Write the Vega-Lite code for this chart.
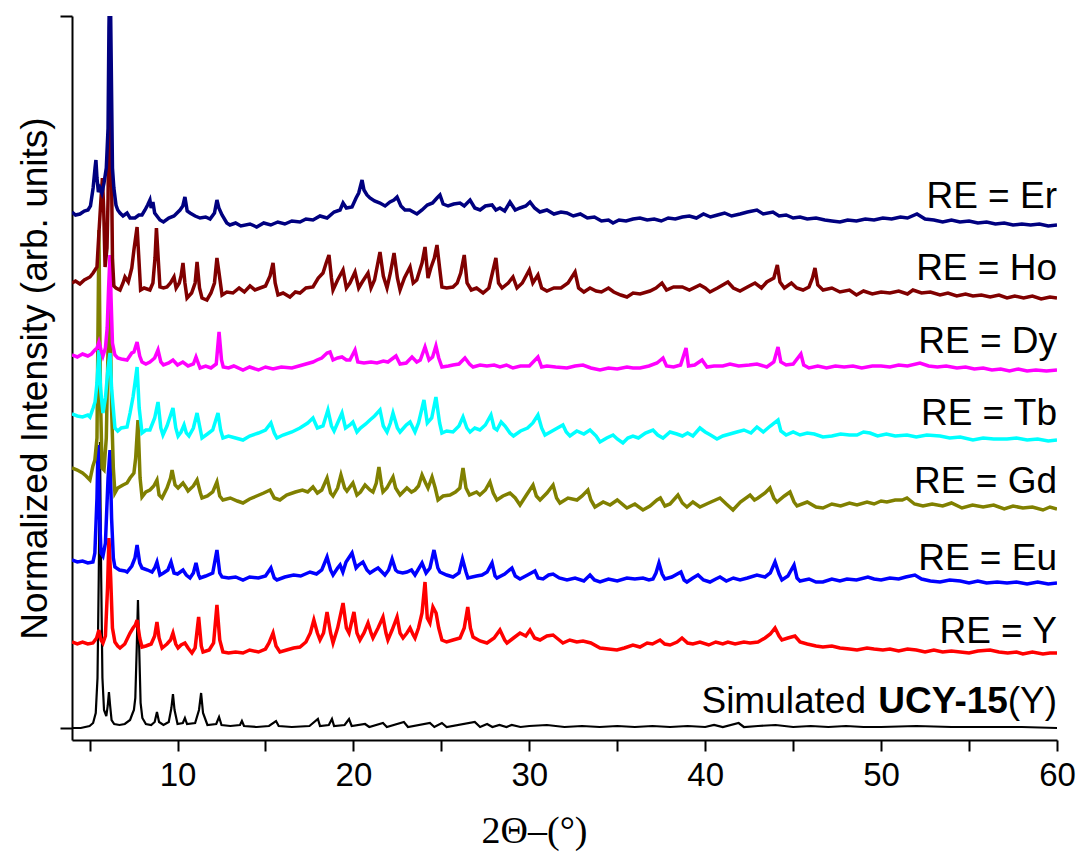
{
"$schema": "https://vega.github.io/schema/vega-lite/v6.json",
"width": 985, "height": 724,
"autosize": {"type": "none"},
"padding": {"left": 72, "top": 16, "right": 21, "bottom": 120},
"background": "white",
"config": {"view": {"stroke": null}},
"datasets": {
"er": [{"x":4.0,"y":516},{"x":4.2,"y":513},{"x":4.45,"y":514},{"x":4.7,"y":517},{"x":4.91,"y":518},{"x":5.05,"y":522},{"x":5.2,"y":540},{"x":5.31,"y":560},{"x":5.36,"y":568},{"x":5.42,"y":550},{"x":5.5,"y":536},{"x":5.59,"y":540},{"x":5.7,"y":535},{"x":5.82,"y":545},{"x":5.95,"y":560},{"x":6.05,"y":600},{"x":6.1,"y":700},{"x":6.16,"y":770},{"x":6.22,"y":680},{"x":6.3,"y":560},{"x":6.38,"y":540},{"x":6.5,"y":523},{"x":6.6,"y":518},{"x":6.73,"y":515},{"x":6.9,"y":512},{"x":7.13,"y":515},{"x":7.3,"y":510},{"x":7.58,"y":510},{"x":7.8,"y":513},{"x":7.98,"y":513},{"x":8.15,"y":518},{"x":8.3,"y":523},{"x":8.43,"y":528},{"x":8.5,"y":520},{"x":8.6,"y":526},{"x":8.7,"y":515},{"x":9.0,"y":508},{"x":9.2,"y":506},{"x":9.5,"y":510},{"x":9.8,"y":512},{"x":10.14,"y":518},{"x":10.3,"y":522},{"x":10.42,"y":531},{"x":10.55,"y":517},{"x":10.71,"y":515},{"x":11.0,"y":512},{"x":11.28,"y":510},{"x":11.6,"y":511},{"x":11.85,"y":509},{"x":12.1,"y":515},{"x":12.24,"y":528},{"x":12.35,"y":520},{"x":12.53,"y":513},{"x":12.8,"y":505},{"x":12.98,"y":503},{"x":13.3,"y":505},{"x":13.6,"y":502},{"x":14.12,"y":504},{"x":14.5,"y":501},{"x":14.9,"y":505},{"x":15.3,"y":503},{"x":15.7,"y":506},{"x":16.1,"y":504},{"x":16.5,"y":507},{"x":16.96,"y":506},{"x":17.3,"y":509},{"x":17.7,"y":508},{"x":18.1,"y":512},{"x":18.5,"y":510},{"x":18.9,"y":516},{"x":19.24,"y":518},{"x":19.41,"y":525},{"x":19.6,"y":520},{"x":19.92,"y":521},{"x":20.15,"y":530},{"x":20.3,"y":535},{"x":20.49,"y":548},{"x":20.6,"y":538},{"x":20.77,"y":533},{"x":20.94,"y":530},{"x":21.2,"y":527},{"x":21.51,"y":525},{"x":21.8,"y":522},{"x":22.08,"y":526},{"x":22.3,"y":528},{"x":22.48,"y":531},{"x":22.7,"y":522},{"x":22.93,"y":518},{"x":23.2,"y":518},{"x":23.61,"y":514},{"x":23.9,"y":518},{"x":24.2,"y":523},{"x":24.5,"y":525},{"x":24.75,"y":530},{"x":24.92,"y":533},{"x":25.1,"y":524},{"x":25.38,"y":522},{"x":25.7,"y":524},{"x":26.06,"y":525},{"x":26.3,"y":522},{"x":26.63,"y":528},{"x":26.9,"y":520},{"x":27.2,"y":518},{"x":27.5,"y":522},{"x":27.88,"y":523},{"x":28.1,"y":518},{"x":28.33,"y":520},{"x":28.6,"y":517},{"x":28.9,"y":526},{"x":29.2,"y":518},{"x":29.47,"y":520},{"x":29.8,"y":522},{"x":30.04,"y":526},{"x":30.3,"y":520},{"x":30.6,"y":516},{"x":31.0,"y":518},{"x":31.4,"y":514},{"x":31.8,"y":516},{"x":32.14,"y":515},{"x":32.5,"y":512},{"x":32.9,"y":514},{"x":33.3,"y":510},{"x":33.7,"y":511},{"x":34.1,"y":507},{"x":34.5,"y":508},{"x":34.76,"y":505},{"x":35.1,"y":508},{"x":35.5,"y":507},{"x":35.9,"y":509},{"x":36.29,"y":510},{"x":36.7,"y":508},{"x":37.1,"y":509},{"x":37.5,"y":507},{"x":37.9,"y":510},{"x":38.3,"y":509},{"x":38.7,"y":511},{"x":39.1,"y":512},{"x":39.5,"y":510},{"x":39.9,"y":514},{"x":40.3,"y":511},{"x":40.7,"y":513},{"x":41.1,"y":515},{"x":41.5,"y":512},{"x":41.98,"y":514},{"x":42.4,"y":516},{"x":42.94,"y":518},{"x":43.3,"y":514},{"x":43.85,"y":516},{"x":44.2,"y":512},{"x":44.6,"y":513},{"x":45.0,"y":510},{"x":45.39,"y":511},{"x":45.8,"y":509},{"x":46.3,"y":510},{"x":46.8,"y":508},{"x":47.2,"y":507},{"x":47.66,"y":506},{"x":48.1,"y":508},{"x":48.6,"y":507},{"x":49.1,"y":509},{"x":49.6,"y":508},{"x":50.1,"y":510},{"x":50.6,"y":509},{"x":51.1,"y":511},{"x":51.5,"y":510},{"x":52.04,"y":514},{"x":52.5,"y":509},{"x":53.0,"y":508},{"x":53.5,"y":506},{"x":54.0,"y":508},{"x":54.48,"y":506},{"x":55.0,"y":507},{"x":55.5,"y":505},{"x":56.0,"y":506},{"x":56.5,"y":504},{"x":57.0,"y":505},{"x":57.5,"y":503},{"x":58.0,"y":504},{"x":58.5,"y":503},{"x":59.0,"y":504},{"x":59.5,"y":502},{"x":60.0,"y":503}],
"ho": [{"x":4.0,"y":445},{"x":4.2,"y":447},{"x":4.45,"y":444},{"x":4.7,"y":448},{"x":5.02,"y":451},{"x":5.2,"y":455},{"x":5.42,"y":461},{"x":5.53,"y":495},{"x":5.65,"y":530},{"x":5.73,"y":550},{"x":5.8,"y":520},{"x":5.88,"y":461},{"x":5.99,"y":480},{"x":6.05,"y":530},{"x":6.1,"y":620},{"x":6.16,"y":668},{"x":6.22,"y":600},{"x":6.3,"y":470},{"x":6.38,"y":442},{"x":6.5,"y":440},{"x":6.73,"y":438},{"x":6.9,"y":445},{"x":7.01,"y":451},{"x":7.2,"y":446},{"x":7.4,"y":460},{"x":7.52,"y":478},{"x":7.7,"y":501},{"x":7.8,"y":470},{"x":7.9,"y":438},{"x":8.1,"y":440},{"x":8.43,"y":438},{"x":8.6,"y":445},{"x":8.72,"y":470},{"x":8.8,"y":500},{"x":8.9,"y":470},{"x":9.0,"y":441},{"x":9.2,"y":440},{"x":9.4,"y":441},{"x":9.6,"y":445},{"x":9.8,"y":451},{"x":9.92,"y":440},{"x":10.1,"y":445},{"x":10.2,"y":452},{"x":10.31,"y":465},{"x":10.42,"y":445},{"x":10.54,"y":430},{"x":10.8,"y":435},{"x":11.0,"y":445},{"x":11.11,"y":466},{"x":11.25,"y":440},{"x":11.39,"y":430},{"x":11.67,"y":428},{"x":11.9,"y":435},{"x":12.1,"y":445},{"x":12.24,"y":470},{"x":12.36,"y":455},{"x":12.53,"y":433},{"x":12.8,"y":436},{"x":13.15,"y":435},{"x":13.5,"y":440},{"x":13.8,"y":436},{"x":14.12,"y":442},{"x":14.4,"y":438},{"x":14.69,"y":440},{"x":15.0,"y":442},{"x":15.26,"y":452},{"x":15.43,"y":465},{"x":15.55,"y":445},{"x":15.71,"y":433},{"x":16.0,"y":435},{"x":16.39,"y":431},{"x":16.7,"y":436},{"x":16.96,"y":435},{"x":17.3,"y":440},{"x":17.7,"y":441},{"x":18.0,"y":450},{"x":18.27,"y":455},{"x":18.45,"y":465},{"x":18.61,"y":473},{"x":18.75,"y":450},{"x":18.84,"y":438},{"x":19.1,"y":448},{"x":19.41,"y":458},{"x":19.6,"y":440},{"x":19.8,"y":445},{"x":20.09,"y":456},{"x":20.3,"y":440},{"x":20.5,"y":446},{"x":20.83,"y":455},{"x":21.0,"y":440},{"x":21.2,"y":448},{"x":21.51,"y":476},{"x":21.7,"y":452},{"x":21.91,"y":440},{"x":22.1,"y":455},{"x":22.31,"y":475},{"x":22.5,"y":450},{"x":22.65,"y":438},{"x":22.9,"y":450},{"x":23.22,"y":461},{"x":23.4,"y":445},{"x":23.6,"y":448},{"x":23.9,"y":465},{"x":24.07,"y":481},{"x":24.24,"y":450},{"x":24.4,"y":460},{"x":24.6,"y":470},{"x":24.75,"y":483},{"x":24.9,"y":460},{"x":25.03,"y":441},{"x":25.3,"y":440},{"x":25.66,"y":441},{"x":25.9,"y":445},{"x":26.1,"y":455},{"x":26.3,"y":473},{"x":26.46,"y":445},{"x":26.7,"y":438},{"x":27.0,"y":440},{"x":27.37,"y":435},{"x":27.7,"y":440},{"x":27.9,"y":455},{"x":28.1,"y":470},{"x":28.25,"y":445},{"x":28.45,"y":440},{"x":28.8,"y":445},{"x":29.07,"y":451},{"x":29.3,"y":440},{"x":29.6,"y":445},{"x":30.0,"y":458},{"x":30.2,"y":445},{"x":30.49,"y":453},{"x":30.7,"y":440},{"x":31.0,"y":437},{"x":31.4,"y":440},{"x":31.8,"y":440},{"x":32.2,"y":445},{"x":32.6,"y":456},{"x":32.8,"y":440},{"x":33.1,"y":436},{"x":33.45,"y":440},{"x":33.8,"y":437},{"x":34.1,"y":436},{"x":34.5,"y":440},{"x":34.8,"y":436},{"x":35.2,"y":433},{"x":35.55,"y":431},{"x":35.9,"y":435},{"x":36.3,"y":434},{"x":36.86,"y":437},{"x":37.2,"y":440},{"x":37.54,"y":445},{"x":37.8,"y":438},{"x":38.2,"y":441},{"x":38.7,"y":441},{"x":39.1,"y":438},{"x":39.7,"y":443},{"x":40.0,"y":440},{"x":40.27,"y":436},{"x":40.7,"y":440},{"x":41.29,"y":446},{"x":41.6,"y":440},{"x":41.98,"y":437},{"x":42.4,"y":441},{"x":42.83,"y":445},{"x":43.2,"y":440},{"x":43.5,"y":446},{"x":43.9,"y":450},{"x":44.1,"y":463},{"x":44.25,"y":446},{"x":44.5,"y":440},{"x":44.9,"y":445},{"x":45.2,"y":440},{"x":45.56,"y":438},{"x":45.9,"y":441},{"x":46.1,"y":450},{"x":46.24,"y":460},{"x":46.4,"y":443},{"x":46.7,"y":438},{"x":47.2,"y":440},{"x":47.66,"y":436},{"x":48.2,"y":438},{"x":48.6,"y":433},{"x":49.0,"y":437},{"x":49.5,"y":434},{"x":50.0,"y":436},{"x":50.5,"y":435},{"x":51.0,"y":437},{"x":51.5,"y":434},{"x":51.81,"y":438},{"x":52.3,"y":435},{"x":52.8,"y":436},{"x":53.35,"y":433},{"x":53.8,"y":435},{"x":54.3,"y":432},{"x":54.8,"y":434},{"x":55.22,"y":432},{"x":55.7,"y":433},{"x":56.2,"y":431},{"x":56.7,"y":433},{"x":57.16,"y":430},{"x":57.6,"y":432},{"x":58.1,"y":430},{"x":58.6,"y":432},{"x":59.1,"y":429},{"x":59.6,"y":431},{"x":60.0,"y":430}],
"dy": [{"x":4.0,"y":373},{"x":4.3,"y":371},{"x":4.6,"y":374},{"x":4.9,"y":372},{"x":5.1,"y":374},{"x":5.3,"y":378},{"x":5.42,"y":380},{"x":5.53,"y":386},{"x":5.65,"y":378},{"x":5.76,"y":372},{"x":5.9,"y":380},{"x":6.0,"y":400},{"x":6.08,"y":440},{"x":6.16,"y":473},{"x":6.22,"y":430},{"x":6.3,"y":385},{"x":6.44,"y":373},{"x":6.6,"y":370},{"x":6.8,"y":369},{"x":7.13,"y":368},{"x":7.4,"y":375},{"x":7.52,"y":376},{"x":7.7,"y":386},{"x":7.85,"y":372},{"x":7.98,"y":366},{"x":8.2,"y":364},{"x":8.43,"y":366},{"x":8.7,"y":370},{"x":8.89,"y":378},{"x":9.05,"y":366},{"x":9.2,"y":363},{"x":9.5,"y":365},{"x":9.74,"y":368},{"x":10.0,"y":363},{"x":10.3,"y":366},{"x":10.6,"y":362},{"x":10.9,"y":364},{"x":11.05,"y":371},{"x":11.28,"y":360},{"x":11.6,"y":362},{"x":11.9,"y":360},{"x":12.2,"y":364},{"x":12.36,"y":396},{"x":12.5,"y":368},{"x":12.6,"y":361},{"x":12.9,"y":360},{"x":13.2,"y":362},{"x":13.72,"y":358},{"x":14.1,"y":361},{"x":14.6,"y":358},{"x":15.0,"y":361},{"x":15.43,"y":359},{"x":15.9,"y":361},{"x":16.5,"y":360},{"x":16.9,"y":362},{"x":17.3,"y":364},{"x":17.7,"y":366},{"x":17.93,"y":368},{"x":18.2,"y":370},{"x":18.5,"y":375},{"x":18.67,"y":376},{"x":18.84,"y":368},{"x":19.1,"y":370},{"x":19.35,"y":371},{"x":19.6,"y":368},{"x":19.8,"y":368},{"x":20.09,"y":378},{"x":20.25,"y":366},{"x":20.6,"y":365},{"x":21.0,"y":366},{"x":21.34,"y":365},{"x":21.7,"y":367},{"x":21.96,"y":366},{"x":22.42,"y":372},{"x":22.65,"y":364},{"x":23.0,"y":365},{"x":23.33,"y":371},{"x":23.6,"y":366},{"x":23.8,"y":368},{"x":24.07,"y":381},{"x":24.3,"y":368},{"x":24.5,"y":371},{"x":24.69,"y":382},{"x":24.85,"y":370},{"x":25.03,"y":361},{"x":25.4,"y":362},{"x":25.66,"y":363},{"x":26.0,"y":364},{"x":26.34,"y":370},{"x":26.6,"y":364},{"x":26.8,"y":361},{"x":27.2,"y":363},{"x":27.59,"y":362},{"x":28.0,"y":363},{"x":28.33,"y":361},{"x":28.7,"y":363},{"x":29.07,"y":360},{"x":29.5,"y":362},{"x":30.0,"y":362},{"x":30.49,"y":371},{"x":30.7,"y":361},{"x":31.0,"y":362},{"x":31.5,"y":361},{"x":32.14,"y":360},{"x":32.6,"y":362},{"x":33.05,"y":363},{"x":33.5,"y":360},{"x":34.02,"y":358},{"x":34.5,"y":360},{"x":35.0,"y":359},{"x":35.55,"y":361},{"x":35.89,"y":360},{"x":36.3,"y":360},{"x":36.8,"y":362},{"x":37.26,"y":365},{"x":37.6,"y":370},{"x":37.8,"y":362},{"x":38.2,"y":361},{"x":38.6,"y":363},{"x":38.91,"y":380},{"x":39.05,"y":362},{"x":39.4,"y":363},{"x":39.82,"y":368},{"x":40.1,"y":361},{"x":40.5,"y":362},{"x":41.0,"y":362},{"x":41.41,"y":364},{"x":41.9,"y":362},{"x":42.5,"y":363},{"x":42.94,"y":364},{"x":43.5,"y":361},{"x":43.9,"y":366},{"x":44.14,"y":381},{"x":44.3,"y":366},{"x":44.6,"y":363},{"x":45.0,"y":364},{"x":45.44,"y":374},{"x":45.6,"y":363},{"x":45.9,"y":360},{"x":46.4,"y":362},{"x":46.9,"y":360},{"x":47.4,"y":362},{"x":47.9,"y":361},{"x":48.4,"y":362},{"x":48.9,"y":360},{"x":49.5,"y":362},{"x":50.0,"y":362},{"x":50.5,"y":361},{"x":51.0,"y":363},{"x":51.5,"y":362},{"x":52.21,"y":365},{"x":52.7,"y":362},{"x":53.2,"y":361},{"x":53.7,"y":362},{"x":54.31,"y":360},{"x":54.8,"y":361},{"x":55.3,"y":359},{"x":55.8,"y":360},{"x":56.3,"y":358},{"x":56.8,"y":359},{"x":57.3,"y":357},{"x":57.8,"y":359},{"x":58.3,"y":357},{"x":58.8,"y":358},{"x":59.4,"y":357},{"x":60.0,"y":358}],
"tb": [{"x":4.0,"y":314},{"x":4.3,"y":312},{"x":4.6,"y":311},{"x":4.9,"y":313},{"x":5.02,"y":311},{"x":5.2,"y":320},{"x":5.31,"y":326},{"x":5.42,"y":345},{"x":5.53,"y":378},{"x":5.62,"y":340},{"x":5.76,"y":315},{"x":5.9,"y":330},{"x":6.05,"y":360},{"x":6.16,"y":375},{"x":6.25,"y":340},{"x":6.44,"y":300},{"x":6.6,"y":297},{"x":6.8,"y":300},{"x":7.13,"y":301},{"x":7.3,"y":315},{"x":7.47,"y":331},{"x":7.58,"y":345},{"x":7.7,"y":361},{"x":7.82,"y":320},{"x":7.98,"y":295},{"x":8.2,"y":298},{"x":8.43,"y":298},{"x":8.7,"y":310},{"x":8.89,"y":326},{"x":9.05,"y":300},{"x":9.17,"y":293},{"x":9.4,"y":302},{"x":9.74,"y":320},{"x":9.9,"y":300},{"x":10.03,"y":292},{"x":10.2,"y":296},{"x":10.37,"y":303},{"x":10.5,"y":295},{"x":10.65,"y":292},{"x":10.9,"y":300},{"x":11.11,"y":315},{"x":11.3,"y":298},{"x":11.39,"y":290},{"x":11.7,"y":294},{"x":12.0,"y":298},{"x":12.3,"y":315},{"x":12.45,"y":298},{"x":12.58,"y":290},{"x":12.9,"y":292},{"x":13.3,"y":290},{"x":13.72,"y":288},{"x":14.1,"y":292},{"x":14.6,"y":295},{"x":15.0,"y":298},{"x":15.31,"y":305},{"x":15.5,"y":295},{"x":15.65,"y":290},{"x":16.0,"y":293},{"x":16.5,"y":296},{"x":16.96,"y":300},{"x":17.4,"y":305},{"x":17.7,"y":310},{"x":17.95,"y":300},{"x":18.27,"y":302},{"x":18.55,"y":318},{"x":18.75,"y":302},{"x":18.9,"y":297},{"x":19.1,"y":305},{"x":19.35,"y":315},{"x":19.55,"y":300},{"x":19.8,"y":303},{"x":19.97,"y":306},{"x":20.2,"y":296},{"x":20.4,"y":300},{"x":20.7,"y":304},{"x":20.94,"y":308},{"x":21.2,"y":312},{"x":21.51,"y":318},{"x":21.7,"y":302},{"x":21.91,"y":296},{"x":22.1,"y":305},{"x":22.25,"y":315},{"x":22.5,"y":300},{"x":22.65,"y":296},{"x":23.0,"y":303},{"x":23.22,"y":306},{"x":23.5,"y":296},{"x":23.7,"y":305},{"x":24.01,"y":328},{"x":24.2,"y":305},{"x":24.45,"y":310},{"x":24.69,"y":331},{"x":24.9,"y":305},{"x":25.03,"y":295},{"x":25.3,"y":297},{"x":25.66,"y":296},{"x":26.0,"y":302},{"x":26.23,"y":311},{"x":26.45,"y":300},{"x":26.63,"y":296},{"x":26.9,"y":300},{"x":27.19,"y":298},{"x":27.5,"y":303},{"x":27.82,"y":313},{"x":28.0,"y":300},{"x":28.16,"y":298},{"x":28.4,"y":306},{"x":28.62,"y":302},{"x":28.9,"y":295},{"x":29.1,"y":292},{"x":29.5,"y":297},{"x":29.9,"y":300},{"x":30.2,"y":305},{"x":30.49,"y":313},{"x":30.7,"y":300},{"x":30.89,"y":293},{"x":31.3,"y":297},{"x":31.6,"y":300},{"x":31.91,"y":303},{"x":32.1,"y":296},{"x":32.31,"y":292},{"x":32.7,"y":297},{"x":33.1,"y":294},{"x":33.45,"y":298},{"x":33.8,"y":292},{"x":34.02,"y":286},{"x":34.4,"y":290},{"x":34.76,"y":293},{"x":35.0,"y":289},{"x":35.32,"y":285},{"x":35.6,"y":290},{"x":35.89,"y":292},{"x":36.2,"y":290},{"x":36.6,"y":295},{"x":37.03,"y":298},{"x":37.3,"y":293},{"x":37.6,"y":290},{"x":38.0,"y":296},{"x":38.39,"y":294},{"x":38.7,"y":292},{"x":39.0,"y":295},{"x":39.3,"y":292},{"x":39.7,"y":300},{"x":40.0,"y":296},{"x":40.3,"y":293},{"x":40.67,"y":289},{"x":41.0,"y":292},{"x":41.4,"y":294},{"x":41.8,"y":296},{"x":42.2,"y":298},{"x":42.6,"y":295},{"x":42.94,"y":301},{"x":43.3,"y":296},{"x":43.7,"y":302},{"x":44.14,"y":308},{"x":44.3,"y":297},{"x":44.6,"y":293},{"x":45.0,"y":296},{"x":45.39,"y":293},{"x":45.8,"y":295},{"x":46.2,"y":294},{"x":46.69,"y":291},{"x":47.2,"y":292},{"x":47.7,"y":294},{"x":48.2,"y":293},{"x":48.63,"y":293},{"x":49.0,"y":296},{"x":49.37,"y":295},{"x":49.8,"y":292},{"x":50.3,"y":294},{"x":50.8,"y":292},{"x":51.47,"y":293},{"x":52.0,"y":291},{"x":52.6,"y":293},{"x":53.35,"y":292},{"x":53.9,"y":290},{"x":54.5,"y":291},{"x":55.22,"y":288},{"x":55.8,"y":290},{"x":56.4,"y":289},{"x":57.16,"y":289},{"x":57.7,"y":290},{"x":58.3,"y":288},{"x":58.9,"y":289},{"x":59.5,"y":287},{"x":60.0,"y":288}],
"gd": [{"x":4.0,"y":260},{"x":4.3,"y":258},{"x":4.6,"y":255},{"x":4.8,"y":252},{"x":5.02,"y":248},{"x":5.19,"y":262},{"x":5.3,"y":268},{"x":5.42,"y":290},{"x":5.53,"y":498},{"x":5.62,"y":330},{"x":5.71,"y":260},{"x":5.82,"y":258},{"x":5.95,"y":290},{"x":6.05,"y":380},{"x":6.16,"y":428},{"x":6.25,"y":320},{"x":6.35,"y":260},{"x":6.44,"y":235},{"x":6.6,"y":240},{"x":6.9,"y":243},{"x":7.13,"y":245},{"x":7.3,"y":250},{"x":7.52,"y":255},{"x":7.62,"y":270},{"x":7.75,"y":308},{"x":7.87,"y":250},{"x":7.98,"y":231},{"x":8.2,"y":236},{"x":8.43,"y":238},{"x":8.65,"y":242},{"x":8.83,"y":248},{"x":8.95,"y":233},{"x":9.12,"y":230},{"x":9.4,"y":240},{"x":9.6,"y":250},{"x":9.69,"y":258},{"x":9.86,"y":243},{"x":10.03,"y":240},{"x":10.31,"y":245},{"x":10.5,"y":240},{"x":10.6,"y":237},{"x":10.9,"y":242},{"x":11.11,"y":248},{"x":11.3,"y":235},{"x":11.39,"y":230},{"x":11.7,"y":232},{"x":12.0,"y":236},{"x":12.24,"y":246},{"x":12.4,"y":232},{"x":12.58,"y":228},{"x":13.0,"y":230},{"x":13.4,"y":227},{"x":13.72,"y":225},{"x":14.1,"y":229},{"x":14.5,"y":232},{"x":14.9,"y":235},{"x":15.26,"y":238},{"x":15.5,"y":230},{"x":15.82,"y":228},{"x":16.2,"y":233},{"x":16.7,"y":236},{"x":17.1,"y":238},{"x":17.4,"y":236},{"x":17.7,"y":241},{"x":17.95,"y":235},{"x":18.2,"y":238},{"x":18.5,"y":250},{"x":18.7,"y":235},{"x":18.84,"y":232},{"x":19.1,"y":240},{"x":19.29,"y":253},{"x":19.5,"y":240},{"x":19.63,"y":237},{"x":19.97,"y":245},{"x":20.2,"y":233},{"x":20.4,"y":236},{"x":20.66,"y":243},{"x":20.94,"y":238},{"x":21.11,"y":236},{"x":21.3,"y":245},{"x":21.45,"y":261},{"x":21.6,"y":243},{"x":21.68,"y":236},{"x":21.9,"y":240},{"x":22.25,"y":251},{"x":22.4,"y":240},{"x":22.65,"y":233},{"x":23.04,"y":240},{"x":23.3,"y":236},{"x":23.5,"y":238},{"x":23.7,"y":242},{"x":23.9,"y":253},{"x":24.1,"y":245},{"x":24.24,"y":240},{"x":24.47,"y":251},{"x":24.65,"y":240},{"x":24.81,"y":228},{"x":25.1,"y":232},{"x":25.49,"y":233},{"x":25.8,"y":236},{"x":26.05,"y":240},{"x":26.23,"y":260},{"x":26.4,"y":240},{"x":26.6,"y":233},{"x":27.0,"y":236},{"x":27.19,"y":233},{"x":27.5,"y":238},{"x":27.76,"y":246},{"x":27.95,"y":235},{"x":28.16,"y":228},{"x":28.5,"y":232},{"x":28.9,"y":235},{"x":29.2,"y":230},{"x":29.47,"y":223},{"x":29.8,"y":232},{"x":30.21,"y":243},{"x":30.4,"y":232},{"x":30.61,"y":228},{"x":31.0,"y":235},{"x":31.35,"y":243},{"x":31.55,"y":230},{"x":31.74,"y":225},{"x":32.2,"y":230},{"x":32.71,"y":228},{"x":33.0,"y":232},{"x":33.33,"y":238},{"x":33.5,"y":228},{"x":33.73,"y":221},{"x":34.2,"y":226},{"x":34.59,"y":223},{"x":35.0,"y":228},{"x":35.55,"y":220},{"x":36.0,"y":224},{"x":36.46,"y":218},{"x":36.86,"y":222},{"x":37.26,"y":228},{"x":37.45,"y":230},{"x":37.71,"y":222},{"x":38.0,"y":224},{"x":38.45,"y":233},{"x":38.7,"y":225},{"x":38.96,"y":221},{"x":39.3,"y":226},{"x":39.7,"y":221},{"x":40.2,"y":225},{"x":40.84,"y":230},{"x":41.2,"y":224},{"x":41.58,"y":218},{"x":42.0,"y":226},{"x":42.55,"y":233},{"x":42.8,"y":228},{"x":43.0,"y":230},{"x":43.4,"y":235},{"x":43.68,"y":240},{"x":43.9,"y":230},{"x":44.08,"y":226},{"x":44.5,"y":232},{"x":44.82,"y":236},{"x":45.05,"y":226},{"x":45.22,"y":222},{"x":45.8,"y":226},{"x":46.3,"y":221},{"x":46.69,"y":220},{"x":47.2,"y":224},{"x":47.7,"y":222},{"x":48.2,"y":225},{"x":48.63,"y":223},{"x":49.2,"y":226},{"x":49.6,"y":224},{"x":50.0,"y":227},{"x":50.33,"y":226},{"x":50.8,"y":228},{"x":51.2,"y":228},{"x":51.47,"y":230},{"x":51.9,"y":224},{"x":52.38,"y":222},{"x":52.9,"y":224},{"x":53.5,"y":222},{"x":54.0,"y":225},{"x":54.6,"y":220},{"x":55.2,"y":223},{"x":55.8,"y":221},{"x":56.4,"y":223},{"x":57.0,"y":219},{"x":57.5,"y":222},{"x":58.06,"y":220},{"x":58.6,"y":221},{"x":59.2,"y":218},{"x":59.6,"y":221},{"x":60.0,"y":219}],
"eu": [{"x":4.0,"y":168},{"x":4.3,"y":166},{"x":4.6,"y":167},{"x":4.9,"y":165},{"x":5.19,"y":166},{"x":5.3,"y":175},{"x":5.42,"y":230},{"x":5.48,"y":283},{"x":5.55,"y":220},{"x":5.65,"y":175},{"x":5.76,"y":172},{"x":5.9,"y":185},{"x":6.05,"y":250},{"x":6.16,"y":278},{"x":6.25,"y":210},{"x":6.35,"y":170},{"x":6.44,"y":161},{"x":6.7,"y":158},{"x":7.01,"y":157},{"x":7.13,"y":156},{"x":7.4,"y":162},{"x":7.58,"y":170},{"x":7.7,"y":183},{"x":7.85,"y":165},{"x":7.98,"y":160},{"x":8.3,"y":158},{"x":8.55,"y":156},{"x":8.7,"y":160},{"x":8.83,"y":166},{"x":9.0,"y":153},{"x":9.2,"y":155},{"x":9.45,"y":158},{"x":9.63,"y":166},{"x":9.8,"y":155},{"x":10.0,"y":154},{"x":10.31,"y":158},{"x":10.5,"y":153},{"x":10.71,"y":150},{"x":10.9,"y":155},{"x":11.05,"y":165},{"x":11.2,"y":153},{"x":11.28,"y":150},{"x":11.6,"y":152},{"x":12.0,"y":155},{"x":12.24,"y":178},{"x":12.4,"y":155},{"x":12.53,"y":151},{"x":12.9,"y":150},{"x":13.3,"y":151},{"x":13.72,"y":148},{"x":14.1,"y":151},{"x":14.6,"y":150},{"x":15.0,"y":152},{"x":15.31,"y":160},{"x":15.5,"y":150},{"x":15.65,"y":148},{"x":16.1,"y":151},{"x":16.6,"y":153},{"x":17.0,"y":152},{"x":17.53,"y":156},{"x":17.9,"y":154},{"x":18.2,"y":158},{"x":18.5,"y":171},{"x":18.7,"y":158},{"x":18.84,"y":153},{"x":19.1,"y":160},{"x":19.24,"y":163},{"x":19.4,"y":156},{"x":19.58,"y":166},{"x":19.92,"y":175},{"x":20.15,"y":160},{"x":20.3,"y":163},{"x":20.54,"y":166},{"x":20.77,"y":158},{"x":20.94,"y":155},{"x":21.2,"y":158},{"x":21.4,"y":160},{"x":21.79,"y":153},{"x":22.0,"y":158},{"x":22.2,"y":169},{"x":22.4,"y":158},{"x":22.53,"y":156},{"x":22.8,"y":155},{"x":23.04,"y":156},{"x":23.3,"y":158},{"x":23.5,"y":153},{"x":23.9,"y":165},{"x":24.13,"y":155},{"x":24.35,"y":160},{"x":24.58,"y":178},{"x":24.8,"y":160},{"x":24.92,"y":156},{"x":25.3,"y":153},{"x":25.66,"y":151},{"x":26.0,"y":155},{"x":26.2,"y":169},{"x":26.4,"y":156},{"x":26.51,"y":150},{"x":27.0,"y":152},{"x":27.31,"y":153},{"x":27.6,"y":156},{"x":27.88,"y":165},{"x":28.05,"y":152},{"x":28.16,"y":150},{"x":28.6,"y":154},{"x":29.01,"y":160},{"x":29.2,"y":152},{"x":29.47,"y":149},{"x":29.9,"y":153},{"x":30.32,"y":157},{"x":30.5,"y":150},{"x":30.78,"y":149},{"x":31.1,"y":153},{"x":31.35,"y":154},{"x":31.7,"y":150},{"x":32.14,"y":148},{"x":32.6,"y":150},{"x":33.1,"y":147},{"x":33.45,"y":153},{"x":33.7,"y":148},{"x":34.02,"y":146},{"x":34.5,"y":149},{"x":35.0,"y":147},{"x":35.55,"y":150},{"x":36.0,"y":149},{"x":36.46,"y":150},{"x":36.8,"y":148},{"x":37.03,"y":149},{"x":37.2,"y":155},{"x":37.37,"y":165},{"x":37.55,"y":154},{"x":37.71,"y":149},{"x":38.1,"y":151},{"x":38.62,"y":156},{"x":38.8,"y":148},{"x":38.96,"y":146},{"x":39.3,"y":150},{"x":39.59,"y":153},{"x":39.9,"y":148},{"x":40.27,"y":146},{"x":40.6,"y":149},{"x":40.84,"y":151},{"x":41.2,"y":147},{"x":41.6,"y":150},{"x":41.98,"y":148},{"x":42.4,"y":150},{"x":42.94,"y":153},{"x":43.4,"y":151},{"x":43.7,"y":155},{"x":43.97,"y":166},{"x":44.2,"y":154},{"x":44.36,"y":148},{"x":44.7,"y":152},{"x":45.05,"y":163},{"x":45.22,"y":150},{"x":45.39,"y":147},{"x":45.9,"y":149},{"x":46.3,"y":146},{"x":46.69,"y":146},{"x":47.2,"y":149},{"x":47.66,"y":147},{"x":48.06,"y":149},{"x":48.6,"y":148},{"x":49.25,"y":151},{"x":49.6,"y":149},{"x":50.0,"y":148},{"x":50.5,"y":150},{"x":51.0,"y":149},{"x":51.4,"y":151},{"x":51.92,"y":153},{"x":52.3,"y":149},{"x":52.8,"y":147},{"x":53.35,"y":146},{"x":53.9,"y":148},{"x":54.5,"y":147},{"x":55.0,"y":145},{"x":55.5,"y":147},{"x":56.0,"y":145},{"x":56.6,"y":146},{"x":57.16,"y":145},{"x":57.7,"y":146},{"x":58.3,"y":144},{"x":58.9,"y":146},{"x":59.5,"y":144},{"x":60.0,"y":145}],
"yy": [{"x":4.0,"y":86},{"x":4.3,"y":84},{"x":4.6,"y":86},{"x":4.9,"y":84},{"x":5.19,"y":85},{"x":5.4,"y":90},{"x":5.53,"y":98},{"x":5.65,"y":88},{"x":5.76,"y":85},{"x":5.9,"y":92},{"x":6.02,"y":140},{"x":6.1,"y":190},{"x":6.2,"y":150},{"x":6.3,"y":100},{"x":6.44,"y":86},{"x":6.6,"y":82},{"x":6.73,"y":80},{"x":7.0,"y":84},{"x":7.3,"y":95},{"x":7.47,"y":100},{"x":7.6,"y":103},{"x":7.7,"y":108},{"x":7.85,"y":90},{"x":7.98,"y":81},{"x":8.2,"y":82},{"x":8.5,"y":84},{"x":8.7,"y":92},{"x":8.83,"y":106},{"x":8.95,"y":90},{"x":9.12,"y":80},{"x":9.4,"y":84},{"x":9.6,"y":88},{"x":9.74,"y":95},{"x":9.9,"y":84},{"x":10.03,"y":80},{"x":10.2,"y":83},{"x":10.42,"y":85},{"x":10.6,"y":80},{"x":10.82,"y":75},{"x":11.0,"y":80},{"x":11.2,"y":111},{"x":11.35,"y":82},{"x":11.45,"y":76},{"x":11.8,"y":78},{"x":12.05,"y":85},{"x":12.24,"y":123},{"x":12.4,"y":88},{"x":12.58,"y":76},{"x":12.9,"y":75},{"x":13.3,"y":76},{"x":13.72,"y":75},{"x":14.1,"y":78},{"x":14.6,"y":76},{"x":15.0,"y":79},{"x":15.2,"y":85},{"x":15.43,"y":95},{"x":15.6,"y":82},{"x":15.82,"y":76},{"x":16.2,"y":78},{"x":16.6,"y":80},{"x":16.96,"y":81},{"x":17.3,"y":86},{"x":17.55,"y":95},{"x":17.75,"y":108},{"x":17.95,"y":95},{"x":18.1,"y":88},{"x":18.3,"y":95},{"x":18.5,"y":116},{"x":18.7,"y":95},{"x":18.84,"y":85},{"x":19.1,"y":100},{"x":19.41,"y":125},{"x":19.6,"y":100},{"x":19.75,"y":95},{"x":20.03,"y":116},{"x":20.2,"y":95},{"x":20.37,"y":88},{"x":20.6,"y":95},{"x":20.83,"y":105},{"x":21.0,"y":95},{"x":21.11,"y":90},{"x":21.4,"y":100},{"x":21.68,"y":111},{"x":21.85,"y":95},{"x":21.96,"y":88},{"x":22.2,"y":98},{"x":22.48,"y":111},{"x":22.65,"y":95},{"x":22.82,"y":90},{"x":23.04,"y":95},{"x":23.22,"y":100},{"x":23.4,"y":93},{"x":23.5,"y":90},{"x":23.7,"y":100},{"x":23.9,"y":115},{"x":24.07,"y":146},{"x":24.2,"y":110},{"x":24.35,"y":105},{"x":24.52,"y":121},{"x":24.7,"y":115},{"x":24.85,"y":100},{"x":25.03,"y":88},{"x":25.3,"y":86},{"x":25.66,"y":88},{"x":26.06,"y":90},{"x":26.3,"y":100},{"x":26.5,"y":121},{"x":26.65,"y":100},{"x":26.8,"y":91},{"x":27.2,"y":87},{"x":27.59,"y":85},{"x":28.0,"y":90},{"x":28.33,"y":98},{"x":28.6,"y":88},{"x":28.73,"y":85},{"x":29.1,"y":90},{"x":29.47,"y":95},{"x":29.8,"y":92},{"x":30.04,"y":98},{"x":30.3,"y":90},{"x":30.61,"y":88},{"x":31.0,"y":92},{"x":31.35,"y":93},{"x":31.7,"y":88},{"x":31.91,"y":85},{"x":32.3,"y":88},{"x":32.7,"y":86},{"x":33.05,"y":87},{"x":33.5,"y":85},{"x":34.02,"y":80},{"x":34.5,"y":79},{"x":34.98,"y":78},{"x":35.4,"y":80},{"x":35.89,"y":83},{"x":36.29,"y":81},{"x":36.7,"y":85},{"x":37.0,"y":84},{"x":37.43,"y":88},{"x":37.7,"y":84},{"x":38.0,"y":83},{"x":38.4,"y":86},{"x":38.68,"y":90},{"x":39.0,"y":85},{"x":39.3,"y":84},{"x":39.7,"y":86},{"x":40.2,"y":83},{"x":40.6,"y":86},{"x":41.0,"y":84},{"x":41.29,"y":86},{"x":41.7,"y":84},{"x":42.2,"y":86},{"x":42.55,"y":85},{"x":43.0,"y":86},{"x":43.4,"y":90},{"x":43.7,"y":94},{"x":43.97,"y":100},{"x":44.2,"y":92},{"x":44.36,"y":88},{"x":44.7,"y":90},{"x":45.1,"y":92},{"x":45.39,"y":86},{"x":45.8,"y":84},{"x":46.3,"y":82},{"x":46.69,"y":81},{"x":47.2,"y":82},{"x":47.66,"y":80},{"x":48.2,"y":79},{"x":48.63,"y":78},{"x":49.2,"y":80},{"x":49.6,"y":79},{"x":50.1,"y":78},{"x":50.5,"y":79},{"x":51.0,"y":77},{"x":51.5,"y":79},{"x":52.0,"y":78},{"x":52.5,"y":76},{"x":53.0,"y":78},{"x":53.5,"y":76},{"x":54.0,"y":77},{"x":54.5,"y":76},{"x":55.0,"y":75},{"x":55.5,"y":77},{"x":56.19,"y":78},{"x":56.7,"y":76},{"x":57.2,"y":75},{"x":57.7,"y":76},{"x":58.06,"y":74},{"x":58.6,"y":76},{"x":59.2,"y":74},{"x":59.6,"y":75},{"x":60.0,"y":75}],
"sim": [{"x":4.0,"y":0},{"x":4.5,"y":0},{"x":5.0,"y":2},{"x":5.2,"y":5},{"x":5.35,"y":15},{"x":5.45,"y":50},{"x":5.52,"y":150},{"x":5.59,"y":286},{"x":5.66,"y":150},{"x":5.73,"y":50},{"x":5.82,"y":18},{"x":5.95,"y":12},{"x":6.03,"y":22},{"x":6.1,"y":36},{"x":6.17,"y":22},{"x":6.25,"y":8},{"x":6.4,"y":4},{"x":6.7,"y":3},{"x":7.0,"y":4},{"x":7.3,"y":8},{"x":7.45,"y":15},{"x":7.52,"y":18},{"x":7.6,"y":30},{"x":7.68,"y":80},{"x":7.75,"y":128},{"x":7.82,"y":80},{"x":7.9,"y":25},{"x":8.0,"y":10},{"x":8.2,"y":4},{"x":8.5,"y":3},{"x":8.7,"y":6},{"x":8.83,"y":16},{"x":8.95,"y":6},{"x":9.2,"y":3},{"x":9.5,"y":6},{"x":9.65,"y":20},{"x":9.74,"y":34},{"x":9.83,"y":18},{"x":10.0,"y":4},{"x":10.3,"y":5},{"x":10.42,"y":10},{"x":10.54,"y":4},{"x":11.0,"y":5},{"x":11.22,"y":18},{"x":11.34,"y":35},{"x":11.45,"y":15},{"x":11.7,"y":3},{"x":12.2,"y":4},{"x":12.36,"y":11},{"x":12.5,"y":3},{"x":13.0,"y":2},{"x":13.55,"y":3},{"x":13.66,"y":7},{"x":13.78,"y":2},{"x":14.5,"y":1},{"x":15.2,"y":2},{"x":15.6,"y":7},{"x":15.75,"y":2},{"x":16.5,"y":1},{"x":17.5,"y":2},{"x":17.98,"y":9},{"x":18.1,"y":2},{"x":18.6,"y":3},{"x":18.78,"y":9},{"x":18.9,"y":2},{"x":19.5,"y":3},{"x":19.75,"y":9},{"x":19.9,"y":2},{"x":20.66,"y":4},{"x":20.9,"y":1},{"x":21.68,"y":5},{"x":21.9,"y":1},{"x":22.87,"y":6},{"x":23.1,"y":1},{"x":24.35,"y":5},{"x":24.6,"y":1},{"x":25.03,"y":5},{"x":25.3,"y":1},{"x":26.9,"y":6},{"x":27.2,"y":1},{"x":27.6,"y":4},{"x":27.9,"y":1},{"x":28.3,"y":3},{"x":28.7,"y":1},{"x":29.0,"y":3},{"x":29.5,"y":1},{"x":30.0,"y":2},{"x":31.0,"y":3},{"x":32.0,"y":1},{"x":33.0,"y":2},{"x":34.0,"y":1},{"x":35.0,"y":2},{"x":36.0,"y":1},{"x":37.0,"y":2},{"x":38.0,"y":1},{"x":39.0,"y":2},{"x":40.0,"y":1},{"x":40.5,"y":3},{"x":41.0,"y":1},{"x":41.9,"y":5},{"x":42.2,"y":1},{"x":43.0,"y":2},{"x":44.0,"y":3},{"x":45.0,"y":1},{"x":46.0,"y":2},{"x":47.0,"y":1},{"x":48.0,"y":2},{"x":49.0,"y":1},{"x":50.0,"y":1},{"x":52.0,"y":2},{"x":54.0,"y":1},{"x":56.0,"y":1},{"x":58.0,"y":1},{"x":60.0,"y":0}],
"labels": [{"x":60,"y":520,"t":"RE = Er"},{"x":60,"y":448,"t":"RE = Ho"},{"x":60,"y":375,"t":"RE = Dy"},{"x":60,"y":303,"t":"RE = Tb"},{"x":60,"y":235,"t":"RE = Gd"},{"x":60,"y":158,"t":"RE = Eu"},{"x":60,"y":85,"t":"RE = Y"},{"x":60,"y":15,"t":"(Y)"},{"x":49.14,"y":15,"t":"Simulated"}],
"labelsBold": [{"x":57.21,"y":15,"t":"UCY-15"}]
},
"encoding": {
"x": {"field": "x", "type": "quantitative",
 "scale": {"domain": [4, 60], "nice": false, "zero": false},
 "axis": {"title": "2Θ–(°)", "values": [5,10,15,20,25,30,35,40,45,50,55,60],
  "labelExpr": "datum.value % 10 === 0 ? datum.label : ''",
  "grid": false, "tickSize": 11, "tickWidth": 2, "tickColor": "black",
  "domainColor": "black", "domainWidth": 2,
  "labelFont": "Liberation Sans Narrow, Liberation Sans, Arial", "labelFontSize": 33, "labelColor": "black",
  "labelPadding": 8, "labelFlush": false, "labelOverlap": false,
  "titleFont": "Liberation Serif, Times New Roman, serif", "titleFontSize": 38, "titleFontWeight": "normal", "titleColor": "black",
  "titleX": 462, "titleY": 91, "titleAlign": "center", "titleBaseline": "middle"}},
"y": {"field": "y", "type": "quantitative",
 "scale": {"domain": [-12, 712], "nice": false, "zero": false},
 "axis": {"title": "Normalized Intensity (arb. units)", "values": [0, 712], "labels": false,
  "grid": false, "tickSize": 12, "tickWidth": 2, "tickColor": "black",
  "domainColor": "black", "domainWidth": 2,
  "titleFont": "Liberation Sans, Arial", "titleFontSize": 37, "titleFontWeight": "normal", "titleColor": "black",
  "titleX": -37, "titleY": 362, "titleAngle": -90, "titleAlign": "center", "titleBaseline": "middle"}}
},
"layer": [
{"data": {"name": "sim"}, "mark": {"type": "line", "color": "#000000", "strokeWidth": 2.2, "clip": true}},
{"data": {"name": "yy"}, "mark": {"type": "line", "color": "#FF0000", "strokeWidth": 3.5, "clip": true}},
{"data": {"name": "eu"}, "mark": {"type": "line", "color": "#0000FF", "strokeWidth": 3.5, "clip": true}},
{"data": {"name": "gd"}, "mark": {"type": "line", "color": "#808000", "strokeWidth": 3.5, "clip": true}},
{"data": {"name": "tb"}, "mark": {"type": "line", "color": "#00FFFF", "strokeWidth": 3.5, "clip": true}},
{"data": {"name": "dy"}, "mark": {"type": "line", "color": "#FF00FF", "strokeWidth": 3.5, "clip": true}},
{"data": {"name": "ho"}, "mark": {"type": "line", "color": "#800000", "strokeWidth": 3.5, "clip": true}},
{"data": {"name": "er"}, "mark": {"type": "line", "color": "#000080", "strokeWidth": 3.5, "clip": true}},
{"data": {"name": "labels"}, "mark": {"type": "text", "align": "right", "baseline": "alphabetic", "font": "Liberation Sans, Arial", "fontSize": 37, "color": "black"},
 "encoding": {"text": {"field": "t"}}},
{"data": {"name": "labelsBold"}, "mark": {"type": "text", "align": "right", "baseline": "alphabetic", "font": "Liberation Sans, Arial", "fontSize": 37, "fontWeight": "bold", "color": "black"},
 "encoding": {"text": {"field": "t"}}}
]
}
